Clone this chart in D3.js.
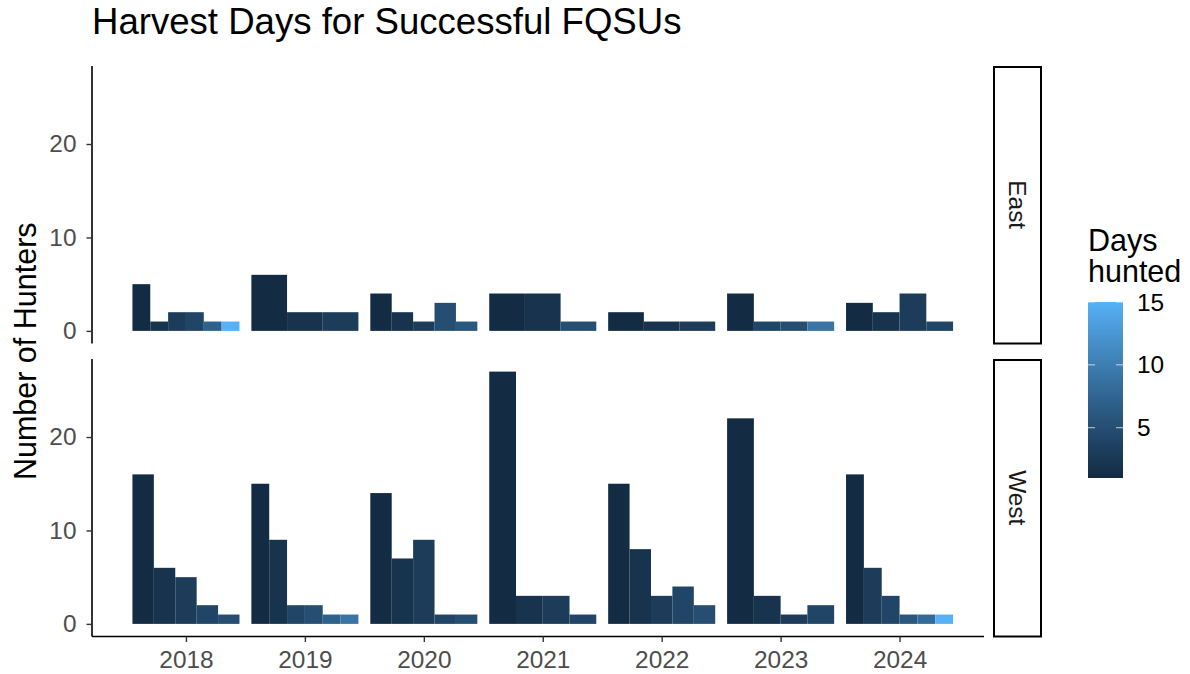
<!DOCTYPE html>
<html>
<head>
<meta charset="utf-8">
<script src="https://cdn.jsdelivr.net/npm/d3@7"></script>
<style>
  body { margin: 0; background: #fff; }
  svg { font-family: "Liberation Sans", Arial, sans-serif; }
</style>
</head>
<body>
<div id="chart"></div>
<script>
// data
const years = [2018, 2019, 2020, 2021, 2022, 2023, 2024];
const regions = ["East", "West"];

// days hunted (one bar per value) and number of hunters, per year
const eastDays   = [[1, 2, 3, 4, 7, 15], [1, 2, 3], [1, 2, 3, 5, 6], [1, 2, 5], [1, 2, 3], [1, 4, 5, 9], [1, 2, 3, 4]];
const eastCounts = [[5, 1, 2, 2, 1, 1], [6, 2, 2], [4, 2, 1, 3, 1], [4, 4, 1], [2, 1, 1], [4, 1, 1, 1], [3, 2, 4, 1]];
const westDays   = [[1, 2, 3, 4, 5], [1, 2, 4, 5, 7, 9], [1, 2, 3, 4, 5], [1, 2, 3, 4], [1, 2, 3, 4, 5], [1, 2, 3, 4], [1, 3, 4, 6, 8, 15]];
const westCounts = [[16, 6, 5, 2, 1], [15, 9, 2, 2, 1, 1], [14, 7, 9, 1, 1], [27, 3, 3, 1], [15, 8, 3, 4, 2], [22, 3, 1, 2], [16, 6, 3, 1, 1, 1]];

const yTicks = [0, 10, 20];
const legendTicks = [5, 10, 15];

// build rows
function buildRows(region, days, counts) {
  let rows = [];
  years.forEach((yr, i) => {
    let n = days[i].length;
    days[i].forEach((d, j) => {
      rows.push({ region: region, year: yr, days: d, count: counts[i][j], idx: j, n: n });
    });
  });
  return rows;
}
const rows = buildRows("East", eastDays, eastCounts).concat(buildRows("West", westDays, westCounts));

const W = 1190, H = 674;
const svg = d3.select("#chart").append("svg").attr("width", W).attr("height", H);

const baseSize = 30.5;
const smallSize = 24.4;

const panelLeft = 92, panelRight = 984;
const panels = { East: { top: 66, bottom: 343.5 }, West: { top: 359, bottom: 636.5 } };

const x = d3.scaleLinear().domain([2017.21, 2024.71]).range([panelLeft, panelRight]);
const maxCount = d3.max(rows, d => d.count);

const color = d3.scaleLinear()
  .domain([1, 15])
  .range(["#132B43", "#56B1F7"])
  .interpolate(d3.interpolateLab);

// title
svg.append("text")
  .attr("x", 92)
  .attr("y", 34)
  .style("font-size", "36.6px")
  .attr("fill", "#000")
  .text("Harvest Days for Successful FQSUs");

const groupW = 0.9;

regions.forEach(reg => {
  let p = panels[reg];
  let y = d3.scaleLinear()
    .domain([-maxCount * 0.05, maxCount * 1.05])
    .range([p.bottom, p.top]);

  let g = svg.append("g");

  // bars
  g.selectAll(".bar")
    .data(rows.filter(d => d.region === reg))
    .enter()
    .append("rect")
    .attr("class", "bar")
    .attr("x", d => x(d.year - groupW / 2 + d.idx * groupW / d.n))
    .attr("width", d => x(d.year + groupW / d.n) - x(d.year))
    .attr("y", d => y(d.count))
    .attr("height", d => y(0) - y(d.count))
    .attr("fill", d => color(d.days));

  // y axis
  let yAxis = g.append("g")
    .attr("transform", `translate(${panelLeft},0)`)
    .call(d3.axisLeft(y).tickValues(yTicks).tickSize(5.5).tickPadding(10));
  yAxis.select(".domain").attr("stroke", "#000").attr("stroke-width", 1.6)
    .attr("d", `M0,${p.top}V${p.bottom}`);
  yAxis.selectAll(".tick line").attr("stroke", "#333").attr("stroke-width", 1.4);
  yAxis.selectAll(".tick text").attr("fill", "#4d4d4d")
    .style("font-size", smallSize + "px").style("font-family", "Liberation Sans, Arial, sans-serif");

  // strip
  svg.append("rect")
    .attr("x", 994)
    .attr("y", p.top + 1)
    .attr("width", 47)
    .attr("height", p.bottom - p.top - 1)
    .attr("fill", "#fff")
    .attr("stroke", "#000")
    .attr("stroke-width", 2);
  svg.append("text")
    .attr("transform", `translate(1017.5, ${(p.top + p.bottom) / 2}) rotate(90)`)
    .attr("text-anchor", "middle")
    .attr("dy", "0.35em")
    .style("font-size", smallSize + "px")
    .attr("fill", "#1a1a1a")
    .text(reg);
});

// x axis on bottom panel
let xAxis = svg.append("g")
  .attr("transform", `translate(0,${panels.West.bottom})`)
  .call(d3.axisBottom(x).tickValues(years).tickFormat(d3.format("d")).tickSize(5.5).tickPadding(9));
xAxis.select(".domain").attr("stroke", "#000").attr("stroke-width", 1.6)
  .attr("d", `M${panelLeft},0H${panelRight}`);
xAxis.selectAll(".tick line").attr("stroke", "#333").attr("stroke-width", 1.4);
xAxis.selectAll(".tick text").attr("fill", "#4d4d4d")
  .style("font-size", smallSize + "px").style("font-family", "Liberation Sans, Arial, sans-serif");

// y axis title
svg.append("text")
  .attr("transform", `translate(36, ${(panels.East.top + panels.West.bottom) / 2}) rotate(-90)`)
  .attr("text-anchor", "middle")
  .style("font-size", baseSize + "px")
  .attr("fill", "#000")
  .text("Number of Hunters");

// legend
let legend = svg.append("g").attr("class", "legend");
legend.append("text").attr("x", 1088).attr("y", 251).style("font-size", baseSize + "px").text("Days");
legend.append("text").attr("x", 1088).attr("y", 282).style("font-size", baseSize + "px").text("hunted");

const lg = d3.scaleLinear().domain([1, 15]).range([478, 302]);
let defs = svg.append("defs");
let grad = defs.append("linearGradient")
  .attr("id", "daysGrad")
  .attr("x1", 0).attr("y1", 1).attr("x2", 0).attr("y2", 0);
d3.range(0, 1.0001, 0.1).forEach(t => {
  grad.append("stop")
    .attr("offset", t)
    .attr("stop-color", color(1 + t * 14));
});
legend.append("rect")
  .attr("x", 1088)
  .attr("y", lg(15))
  .attr("width", 35)
  .attr("height", lg(1) - lg(15))
  .attr("fill", "url(#daysGrad)");

legendTicks.forEach(t => {
  legend.append("line").attr("x1", 1088).attr("x2", 1095)
    .attr("y1", lg(t)).attr("y2", lg(t)).attr("stroke", "#fff").attr("stroke-opacity", 0.7);
  legend.append("line").attr("x1", 1116).attr("x2", 1123)
    .attr("y1", lg(t)).attr("y2", lg(t)).attr("stroke", "#fff").attr("stroke-opacity", 0.7);
  legend.append("text")
    .attr("x", 1137)
    .attr("y", lg(t))
    .attr("dy", "0.35em")
    .style("font-size", smallSize + "px")
    .attr("fill", "#000")
    .text(t);
});
</script>
</body>
</html>
